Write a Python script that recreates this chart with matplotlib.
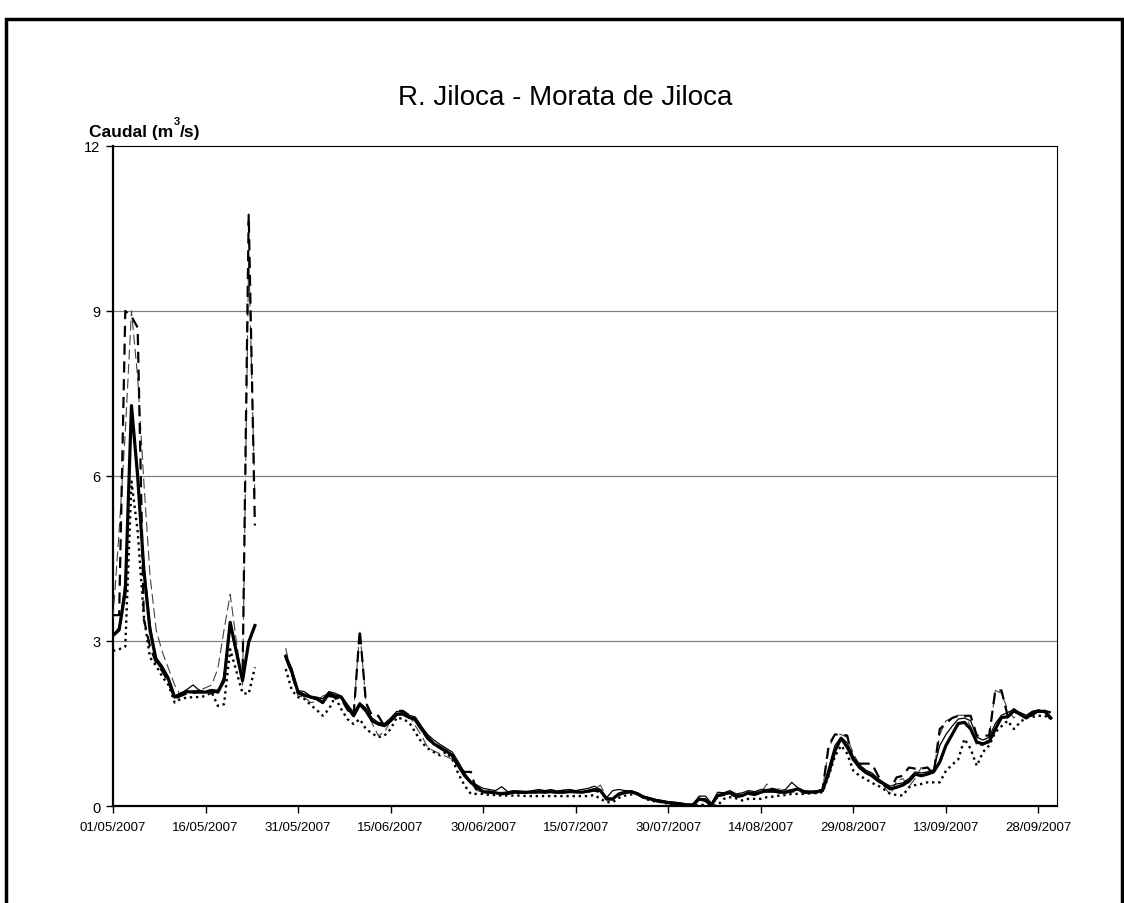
import matplotlib
matplotlib.use("Agg")
import matplotlib.pyplot as plt
import matplotlib.dates as mdates
from matplotlib.patches import Rectangle
import numpy as np
import pandas as pd

nan = np.nan

# daily values 01/05/2007 - 30/09/2007
dates = pd.date_range("2007-05-01", "2007-09-30", freq="D")

caudal_thick = [
    3.10, 3.20, 3.90, 7.28, 6.00, 4.30, 3.20, 2.65, 2.50, 2.30,
    1.98, 2.04, 2.08, 2.07, 2.07, 2.07, 2.10, 2.07, 2.28, 3.34,
    2.80, 2.28, 2.98, 3.28, nan, nan, nan, nan, 2.72, 2.43,
    2.07, 2.02, 1.98, 1.95, 1.88, 2.05, 2.00, 1.98, 1.80, 1.64,
    1.85, 1.73, 1.55, 1.49, 1.46, 1.55, 1.67, 1.67, 1.61, 1.58,
    1.40, 1.25, 1.13, 1.07, 1.00, 0.92, 0.73, 0.55, 0.43, 0.34,
    0.26, 0.25, 0.24, 0.22, 0.24, 0.25, 0.25, 0.25, 0.25, 0.26,
    0.25, 0.26, 0.25, 0.25, 0.26, 0.26, 0.25, 0.27, 0.30, 0.28,
    0.13, 0.13, 0.22, 0.25, 0.26, 0.22, 0.16, 0.13, 0.10, 0.08,
    0.06, 0.05, 0.04, 0.02, 0.02, 0.13, 0.10, 0.02, 0.19, 0.22,
    0.24, 0.18, 0.19, 0.24, 0.22, 0.25, 0.28, 0.28, 0.25, 0.25,
    0.28, 0.31, 0.25, 0.25, 0.26, 0.28, 0.60, 1.00, 1.23, 1.07,
    0.85, 0.70, 0.61, 0.55, 0.46, 0.40, 0.31, 0.34, 0.38, 0.45,
    0.58, 0.55, 0.58, 0.62, 0.80, 1.10, 1.30, 1.50, 1.52, 1.40,
    1.16, 1.13, 1.17, 1.40, 1.61, 1.62, 1.73, 1.67, 1.60, 1.70,
    1.72, 1.72, 1.60]

caudal_thin = [
    3.10, 3.25, 4.10, 7.10, 6.10, 4.40, 3.30, 2.70, 2.55, 2.35,
    2.00, 2.05, 2.12, 2.20, 2.10, 2.08, 2.12, 2.10, 2.35, 3.30,
    2.85, 2.30, 3.00, 3.30, nan, nan, nan, nan, 2.75, 2.50,
    2.10, 2.08, 2.00, 1.98, 1.95, 2.08, 2.05, 2.00, 1.85, 1.70,
    1.88, 1.78, 1.60, 1.52, 1.50, 1.60, 1.72, 1.70, 1.65, 1.62,
    1.45, 1.30, 1.20, 1.12, 1.05, 0.98, 0.80, 0.60, 0.45, 0.38,
    0.32, 0.30, 0.28, 0.35, 0.26, 0.28, 0.27, 0.26, 0.28, 0.30,
    0.28, 0.30, 0.27, 0.29, 0.30, 0.28, 0.30, 0.32, 0.36, 0.30,
    0.15, 0.28, 0.30, 0.28, 0.27, 0.24, 0.18, 0.15, 0.12, 0.10,
    0.08, 0.07, 0.05, 0.03, 0.03, 0.18, 0.18, 0.05, 0.25, 0.24,
    0.28, 0.22, 0.24, 0.28, 0.26, 0.30, 0.30, 0.32, 0.28, 0.30,
    0.43, 0.33, 0.28, 0.27, 0.27, 0.30, 0.70, 1.10, 1.25, 1.15,
    0.90, 0.75, 0.65, 0.60, 0.50, 0.42, 0.36, 0.40, 0.42, 0.50,
    0.62, 0.60, 0.62, 0.66, 1.10, 1.30, 1.45, 1.58, 1.60, 1.55,
    1.25, 1.20, 1.25, 1.50, 1.65, 1.70, 1.76, 1.70, 1.65, 1.72,
    1.75, 1.72, 1.62]

caudal_dash = [
    3.47, 3.47, 9.00, 8.90, 8.70, 3.40, 2.90, 2.60, 2.45, 2.25,
    1.95, 2.00, 2.05, 2.05, 2.10, 2.05, 2.05, 2.10, 2.30, 3.30,
    2.80, 2.30, 10.75, 5.10, nan, nan, nan, nan, 2.70, 2.40,
    2.05, 2.00, 1.98, 1.95, 1.90, 2.00, 1.98, 1.95, 1.75, 1.64,
    3.20, 1.88, 1.64, 1.64, 1.45, 1.55, 1.73, 1.73, 1.65, 1.55,
    1.38, 1.22, 1.12, 1.05, 0.98, 0.90, 0.70, 0.62, 0.62, 0.25,
    0.25, 0.25, 0.22, 0.22, 0.22, 0.23, 0.24, 0.24, 0.24, 0.25,
    0.25, 0.25, 0.25, 0.25, 0.26, 0.25, 0.25, 0.26, 0.28, 0.25,
    0.12, 0.12, 0.20, 0.24, 0.25, 0.22, 0.15, 0.12, 0.09, 0.07,
    0.05, 0.04, 0.03, 0.02, 0.02, 0.12, 0.12, 0.02, 0.18, 0.20,
    0.22, 0.17, 0.18, 0.22, 0.20, 0.24, 0.26, 0.26, 0.25, 0.25,
    0.26, 0.28, 0.25, 0.25, 0.25, 0.30, 1.10, 1.30, 1.30, 1.28,
    0.80, 0.77, 0.77, 0.77, 0.55, 0.37, 0.31, 0.52, 0.55, 0.70,
    0.68, 0.68, 0.70, 0.58, 1.40, 1.50, 1.60, 1.64, 1.64, 1.64,
    1.28, 1.28, 1.28, 2.10, 2.10, 1.64, 1.76, 1.67, 1.61, 1.65,
    1.73, 1.73, 1.70]

caudal_longdash = [
    3.40, 5.00, 6.80, 9.00, 7.80, 5.90, 4.20, 3.20, 2.80, 2.50,
    2.20, 2.00, 2.05, 2.10, 2.10, 2.15, 2.20, 2.50, 3.20, 3.85,
    3.00, 2.20, 10.00, 5.60, nan, nan, nan, nan, 2.87, 2.37,
    2.00, 1.98, 1.88, 1.90, 2.00, 2.04, 1.95, 1.95, 1.80, 1.70,
    3.20, 1.88, 1.50, 1.28, 1.34, 1.55, 1.65, 1.67, 1.64, 1.46,
    1.28, 1.07, 1.00, 0.95, 0.90, 0.85, 0.73, 0.55, 0.40, 0.28,
    0.25, 0.28, 0.22, 0.25, 0.25, 0.24, 0.26, 0.27, 0.25, 0.28,
    0.26, 0.28, 0.26, 0.28, 0.27, 0.28, 0.27, 0.28, 0.30, 0.38,
    0.15, 0.12, 0.20, 0.26, 0.28, 0.24, 0.18, 0.14, 0.12, 0.09,
    0.07, 0.05, 0.05, 0.03, 0.02, 0.10, 0.14, 0.04, 0.15, 0.24,
    0.25, 0.20, 0.18, 0.22, 0.26, 0.24, 0.40, 0.30, 0.31, 0.28,
    0.30, 0.30, 0.26, 0.24, 0.22, 0.30, 1.05, 1.30, 1.30, 1.25,
    0.95, 0.75, 0.65, 0.60, 0.45, 0.35, 0.20, 0.45, 0.50, 0.35,
    0.50, 0.70, 0.60, 0.65, 1.30, 1.55, 1.60, 1.65, 1.65, 1.45,
    1.10, 1.10, 1.25, 2.10, 2.05, 1.75, 1.60, 1.70, 1.60, 1.65,
    1.72, 1.70, 1.55]

caudal_dot = [
    2.82, 2.85, 2.90, 5.90, 5.00, 3.45, 2.70, 2.55, 2.35, 2.20,
    1.88, 1.95, 1.97, 1.98, 1.98, 2.00, 2.07, 1.82, 1.85, 2.85,
    2.45, 2.05, 2.04, 2.52, nan, nan, nan, nan, 2.49, 2.10,
    1.98, 1.95, 1.84, 1.75, 1.64, 1.76, 1.98, 1.76, 1.58, 1.49,
    1.58, 1.40, 1.32, 1.25, 1.28, 1.40, 1.61, 1.58, 1.52, 1.34,
    1.16, 1.05, 0.98, 0.92, 0.98, 0.85, 0.58, 0.37, 0.22, 0.22,
    0.22, 0.20, 0.20, 0.19, 0.19, 0.19, 0.19, 0.18, 0.18, 0.18,
    0.18, 0.18, 0.18, 0.18, 0.18, 0.18, 0.18, 0.18, 0.20, 0.13,
    0.07, 0.07, 0.15, 0.19, 0.21, 0.22, 0.15, 0.10, 0.08, 0.07,
    0.04, 0.02, 0.02, 0.01, 0.01, 0.02, 0.02, 0.01, 0.01, 0.13,
    0.16, 0.14, 0.10, 0.13, 0.13, 0.13, 0.16, 0.17, 0.19, 0.20,
    0.22, 0.22, 0.22, 0.23, 0.24, 0.25, 0.55, 0.90, 1.10, 0.95,
    0.64, 0.55, 0.49, 0.42, 0.37, 0.30, 0.22, 0.20, 0.19, 0.34,
    0.38, 0.40, 0.43, 0.43, 0.43, 0.64, 0.75, 0.85, 1.22, 1.04,
    0.73, 0.98, 1.10, 1.34, 1.45, 1.55, 1.40, 1.52, 1.61, 1.62,
    1.64, 1.64, 1.58]

y_ticks = [0, 3, 6, 9, 12]
x_ticks = pd.date_range("2007-05-01", "2007-09-28", freq="15D")

plt.rcParams["font.family"] = ["Liberation Sans", "DejaVu Sans"]

fig = plt.figure(figsize=(11.24, 9.04), dpi=100)
ax = fig.add_axes([0.1005, 0.1073, 0.8399, 0.7301])

ax.plot(dates, caudal_longdash, color="#444444", lw=0.8, dashes=(9, 4), zorder=3)
ax.plot(dates, caudal_dash, color="black", lw=1.6, dashes=(5, 3), zorder=4)
ax.plot(dates, caudal_dot, color="black", lw=1.7, dashes=(1, 1.6), zorder=4)
ax.plot(dates, caudal_thin, color="black", lw=0.9, zorder=5)
ax.plot(dates, caudal_thick, color="black", lw=2.3, zorder=6)

ax.set_ylim(0, 12)
ax.set_yticks(y_ticks)
ax.set_xlim(pd.Timestamp("2007-05-01"), pd.Timestamp("2007-10-01"))
ax.set_xticks(x_ticks)
ax.xaxis.set_major_formatter(mdates.DateFormatter("%d/%m/%Y"))
ax.tick_params(axis="x", labelsize=9.5, length=5, width=1, direction="out", pad=6)
ax.tick_params(axis="y", labelsize=10.5, length=5, width=1, direction="out", pad=4)

for yv in y_ticks[1:-1]:
    ax.axhline(yv, color="#808080", lw=0.9, zorder=1)

for side in ["top", "right"]:
    ax.spines[side].set_color("black")
    ax.spines[side].set_linewidth(0.8)
for side in ["left", "bottom"]:
    ax.spines[side].set_linewidth(1.6)

fig.text(0.503, 0.892, "R. Jiloca - Morata de Jiloca", ha="center", va="center", fontsize=20)
fig.text(0.079, 0.8485, "Caudal (m", ha="left", va="baseline", fontsize=12.5,
         fontweight="bold")
cap = fig.texts[-1]
fig.canvas.draw()
bb = cap.get_window_extent().transformed(fig.transFigure.inverted())
fig.text(bb.x1 + 0.0005, 0.8615, "3", ha="left", va="baseline", fontsize=8,
         fontweight="bold")
bb3 = fig.texts[-1].get_window_extent().transformed(fig.transFigure.inverted())
fig.text(bb3.x1, 0.8485, "/s)", ha="left", va="baseline", fontsize=12.5,
         fontweight="bold")

fig.patches.append(Rectangle((0.005, -0.01), 0.993, 0.988, transform=fig.transFigure,
                             fill=False, edgecolor="black", lw=2.5))

fig.savefig("out.png", dpi=100)
